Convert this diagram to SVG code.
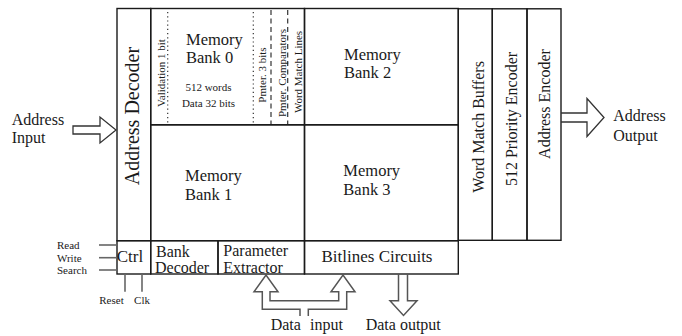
<svg xmlns="http://www.w3.org/2000/svg" width="682" height="336" viewBox="0 0 682 336">
  <style>
    text { font-family: "Liberation Serif", "Times New Roman", serif; fill: #1a1a1a; }
    .box { fill: none; stroke: #1a1a1a; stroke-width: 1.4; }
    .dot { stroke: #333; stroke-width: 1.2; stroke-dasharray: 1.2 3; }
    .dash { stroke: #333; stroke-width: 1.2; stroke-dasharray: 5 3.5; }
    .sig { stroke: #666; stroke-width: 1.6; }
    .fat { fill: none; stroke: #333; stroke-width: 1.3; stroke-linejoin: miter; }
    .fatg { fill: none; stroke: #555; stroke-width: 1.5; stroke-linejoin: miter; }
    .big { font-size: 16.5px; }
    .mid { font-size: 16px; }
    .sm { font-size: 11px; }
  </style>

  <!-- Address decoder column -->
  <g id="address-decoder">
    <rect class="box" x="117" y="8.5" width="33.7" height="232.2"/>
    <text transform="translate(139,116) rotate(-90)" text-anchor="middle" font-size="20">Address Decoder</text>
  </g>

  <!-- Memory bank 0 with its bit fields -->
  <g id="memory-bank-0">
    <rect class="box" x="150.7" y="8.5" width="153.8" height="116.3"/>
    <line class="dot" x1="167.7" y1="12" x2="167.7" y2="123"/>
    <line class="dot" x1="253.3" y1="12" x2="253.3" y2="123"/>
    <line class="dash" x1="271" y1="10" x2="271" y2="124"/>
    <line class="dash" x1="287.7" y1="10" x2="287.7" y2="124"/>
    <text class="sm" transform="translate(164.5,73) rotate(-90)" text-anchor="middle">Validation 1 bit</text>
    <text class="big" x="186" y="44.5">Memory</text>
    <text class="big" x="186" y="63">Bank 0</text>
    <text class="sm" x="208.5" y="90.7" text-anchor="middle">512 words</text>
    <text class="sm" x="208.5" y="107.3" text-anchor="middle">Data 32 bits</text>
    <text class="sm" transform="translate(265.5,75) rotate(-90)" text-anchor="middle">Pmter. 3 bits</text>
    <text class="sm" transform="translate(285.5,73) rotate(-90)" text-anchor="middle">Pmter. Comparators</text>
    <text class="sm" transform="translate(301.5,72) rotate(-90)" text-anchor="middle">Word Match Lines</text>
  </g>

  <!-- Memory bank 2 -->
  <g id="memory-bank-2">
    <rect class="box" x="304.5" y="8.5" width="153.8" height="116.3"/>
    <text class="big" x="344" y="59.5">Memory</text>
    <text class="big" x="344" y="78">Bank 2</text>
  </g>

  <!-- Memory bank 1 -->
  <g id="memory-bank-1">
    <rect class="box" x="150.7" y="124.8" width="153.8" height="115.9"/>
    <text class="big" x="185" y="181.2">Memory</text>
    <text class="big" x="185" y="199.7">Bank 1</text>
  </g>

  <!-- Memory bank 3 -->
  <g id="memory-bank-3">
    <rect class="box" x="304.5" y="124.8" width="153.8" height="115.9"/>
    <text class="big" x="343.3" y="176.2">Memory</text>
    <text class="big" x="343.3" y="194.7">Bank 3</text>
  </g>

  <!-- Output side columns -->
  <g id="word-match-buffers">
    <rect class="box" x="458.3" y="8.8" width="34" height="231.5"/>
    <text class="mid" transform="translate(483.5,127) rotate(-90)" text-anchor="middle">Word Match Buffers</text>
  </g>
  <g id="priority-encoder">
    <rect class="box" x="492.3" y="8.8" width="34.7" height="231.5"/>
    <text class="mid" transform="translate(516.5,119) rotate(-90)" text-anchor="middle">512 Priority Encoder</text>
  </g>
  <g id="address-encoder">
    <rect class="box" x="527" y="8.8" width="34" height="231.5"/>
    <text class="mid" transform="translate(550,104) rotate(-90)" text-anchor="middle">Address Encoder</text>
  </g>

  <!-- Bottom row of peripheral circuits -->
  <g id="ctrl">
    <rect class="box" x="117" y="240.7" width="33.7" height="33.3"/>
    <text font-size="17" x="116.7" y="261.7">Ctrl</text>
  </g>
  <g id="bank-decoder">
    <rect class="box" x="150.7" y="240.7" width="67.3" height="33.3"/>
    <text class="mid" x="156" y="256.7">Bank</text>
    <text class="mid" x="155" y="273">Decoder</text>
  </g>
  <g id="parameter-extractor">
    <rect class="box" x="218" y="240.7" width="86.5" height="33.3"/>
    <text class="mid" x="223.3" y="256">Parameter</text>
    <text class="mid" x="223.3" y="273">Extractor</text>
  </g>
  <g id="bitlines-circuits">
    <rect class="box" x="304.5" y="240.7" width="153.8" height="33.3"/>
    <text font-size="17" x="377" y="261.7" text-anchor="middle">Bitlines Circuits</text>
  </g>

  <!-- Connectors: control signals and wide data/address arrows -->
  <g id="connectors">
    <line class="sig" x1="99" y1="245" x2="117" y2="245"/>
    <line class="sig" x1="99" y1="257.7" x2="117" y2="257.7"/>
    <line class="sig" x1="99" y1="270" x2="117" y2="270" stroke="#222"/>
    <line class="sig" x1="125" y1="274" x2="125" y2="291.7"/>
    <line class="sig" x1="142" y1="274" x2="142" y2="291.7"/>

    <path class="fat" d="M73,126 H100 V117 L116,130 L100,143 V134 H73 Z"/>
    <path class="fat" d="M561,113 H587 V98.5 L604,117.5 L587,136.5 V122 H561"/>
    <path class="fatg" d="M300,316 V309.3 H262.3 V291.7 H254 L266,275 L278,291.7 H270 V300.7 H338.7 V291.7 H331 L343,275 L355,291.7 H346.7 V309.3 H308.3 V316"/>
    <path class="fatg" d="M398.5,274 V300.7 H390 L403.5,315.5 L417,300.7 H407.5 V274"/>
  </g>

  <!-- Signal labels -->
  <g id="labels">
    <text class="sm" x="57" y="248.7">Read</text>
    <text class="sm" x="57" y="261.7">Write</text>
    <text class="sm" x="57" y="274.3">Search</text>
    <text class="sm" x="111.5" y="304" text-anchor="middle">Reset</text>
    <text class="sm" x="142" y="304" text-anchor="middle">Clk</text>
    <text class="mid" x="11.7" y="125">Address</text>
    <text class="mid" x="11.7" y="143">Input</text>
    <text class="mid" x="613.3" y="121">Address</text>
    <text class="mid" x="613.3" y="141">Output</text>
    <text class="mid" y="330"><tspan x="270.7">Data</tspan><tspan x="310">input</tspan></text>
    <text class="mid" x="365.7" y="330">Data output</text>
  </g>
</svg>
